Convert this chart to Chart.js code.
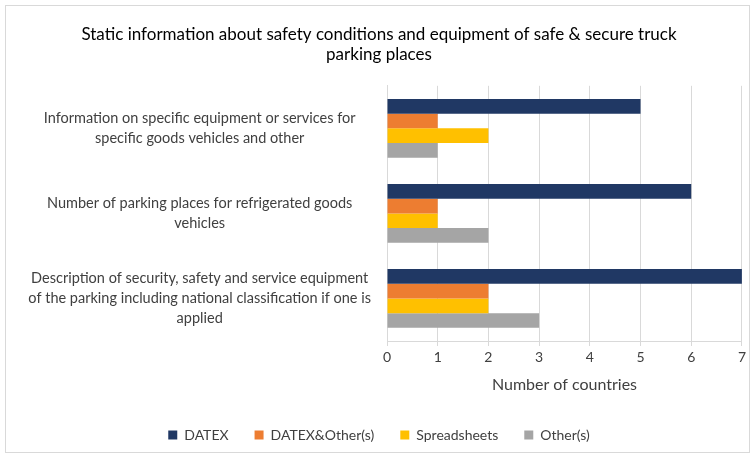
<!DOCTYPE html>
<html>
<head>
<meta charset="utf-8">
<script src="https://cdn.jsdelivr.net/npm/chart.js@4"></script>
<style>
  html, body { margin: 0; padding: 0; background: #fff; }
  .frame {
    position: absolute; left: 5px; top: 5px;
    width: 743px; height: 446px;
    border: 1px solid #d9d9d9;
  }
  canvas { display: block; }
</style>
</head>
<body>
<div class="frame"><canvas id="chart" width="743" height="446"></canvas></div>
<script>
const categories = [
  ['Information on specific equipment or services for', 'specific goods vehicles and other'],
  ['Number of parking places for refrigerated goods', 'vehicles'],
  ['Description of security, safety and service equipment', 'of the parking including national classification if one is', 'applied']
];
const datex = [5, 6, 7];
const datexOther = [1, 1, 2];
const spreadsheets = [2, 1, 2];
const others = [1, 2, 3];
const xTicks = [0, 1, 2, 3, 4, 5, 6, 7];

const font = 'Lato, "Liberation Sans", sans-serif';
const ctx = document.getElementById('chart').getContext('2d');

new Chart(ctx, {
  type: 'bar',
  data: {
    labels: categories,
    datasets: [
      { label: 'DATEX', data: datex, backgroundColor: '#203864' },
      { label: 'DATEX&Other(s)', data: datexOther, backgroundColor: '#ed7d31' },
      { label: 'Spreadsheets', data: spreadsheets, backgroundColor: '#ffc000' },
      { label: 'Other(s)', data: others, backgroundColor: '#a5a5a5' }
    ]
  },
  options: {
    indexAxis: 'y',
    responsive: false,
    animation: false,
    categoryPercentage: 0.69,
    barPercentage: 1,
    layout: { padding: { left: 10, right: 7, top: 0, bottom: 0 } },
    plugins: {
      title: {
        display: true,
        text: ['Static information about safety conditions and equipment of safe & secure truck', 'parking places'],
        color: '#000',
        font: { family: font, size: 17, weight: 'normal' },
        padding: { top: 18, bottom: 21 },
        lineHeight: 1.42
      },
      legend: {
        position: 'bottom',
        labels: {
          color: '#404040',
          font: { family: font, size: 14 },
          boxWidth: 9,
          boxHeight: 9,
          padding: 26
        }
      },
      tooltip: { enabled: false }
    },
    scales: {
      x: {
        min: 0,
        max: 7,
        afterBuildTicks: axis => { axis.ticks = xTicks.map(v => ({ value: v })); },
        grid: { color: '#d9d9d9', tickLength: 5 },
        border: { color: '#d9d9d9' },
        ticks: { color: '#404040', font: { family: font, size: 14 }, padding: 3 },
        title: {
          display: true,
          text: 'Number of countries',
          color: '#404040',
          font: { family: font, size: 16 },
          padding: { top: 6, bottom: 8 }
        }
      },
      y: {
        afterFit: axis => { axis.width = 371; },
        grid: { display: false },
        border: { color: '#d9d9d9' },
        ticks: {
          color: '#404040',
          font: { family: font, size: 14.5, lineHeight: 1.4 },
          crossAlign: 'center',
          padding: 8
        }
      }
    }
  }
});
</script>
</body>
</html>
